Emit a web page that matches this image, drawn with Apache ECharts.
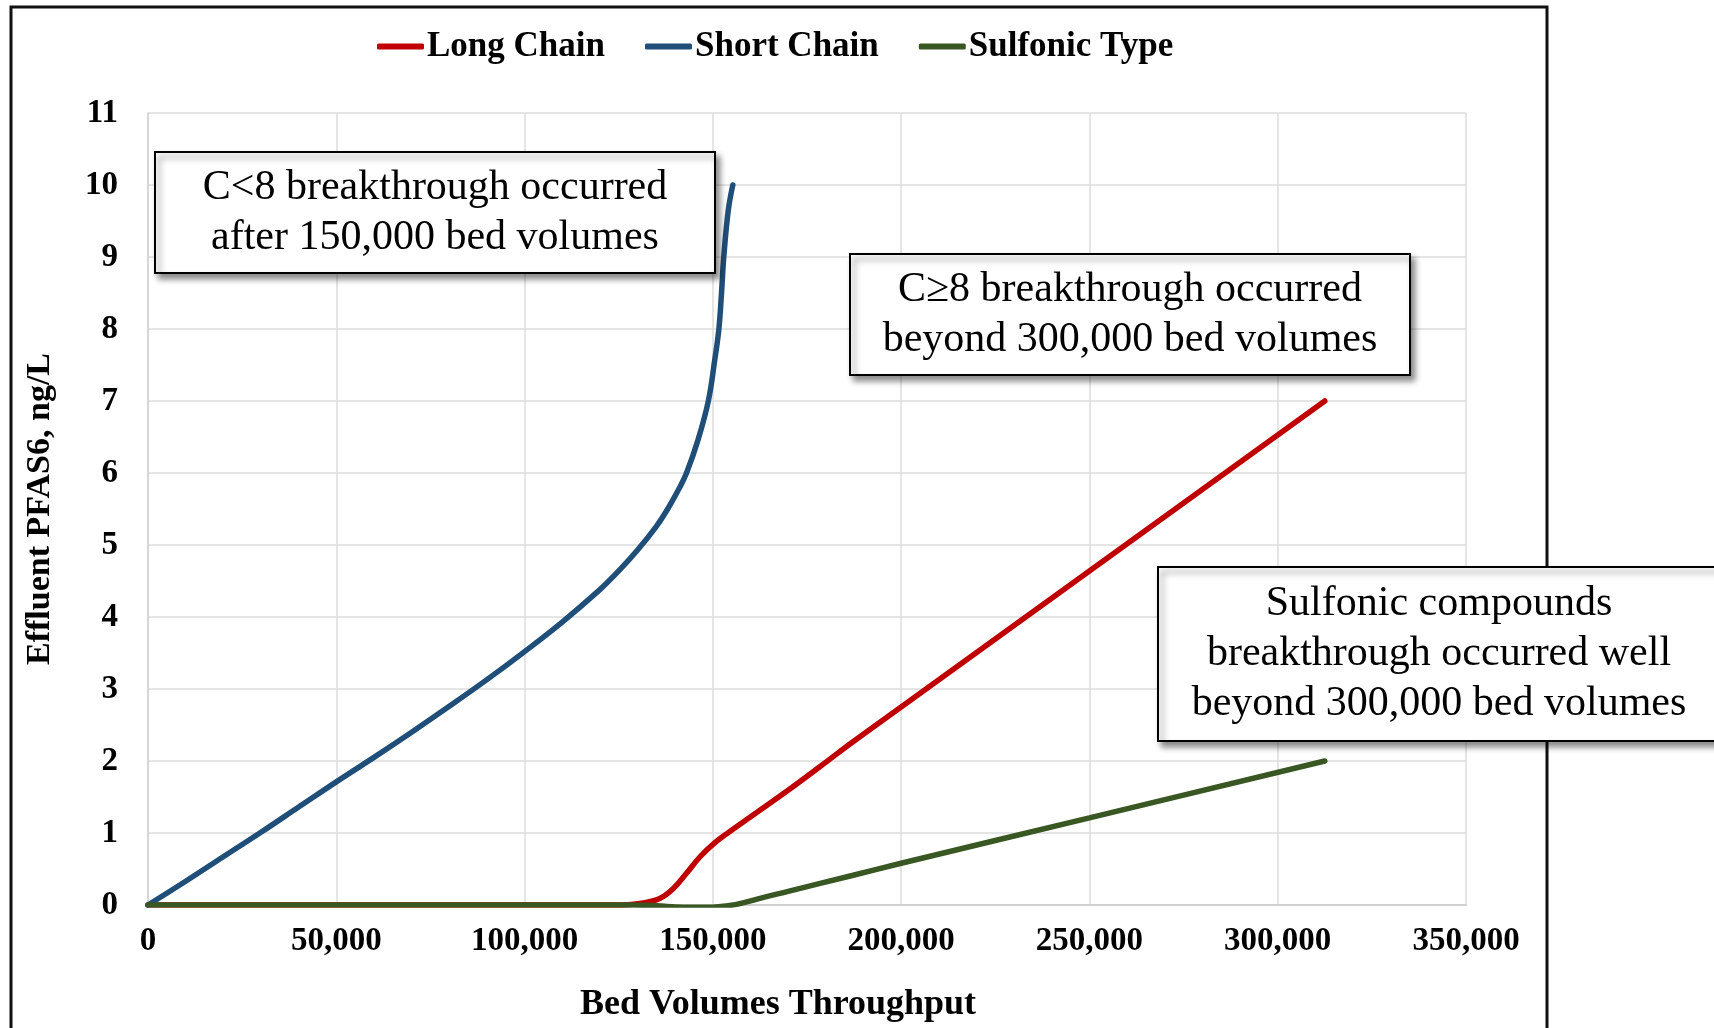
<!DOCTYPE html>
<html>
<head>
<meta charset="utf-8">
<script src="https://cdn.jsdelivr.net/npm/echarts@6/dist/echarts.min.js"></script>
<style>
  html, body { margin: 0; padding: 0; background: #fff; }
  #chart { width: 1714px; height: 1028px; }
</style>
</head>
<body>
<div id="chart"></div>
<script>
// series names
const seriesNames = ["Long Chain", "Short Chain", "Sulfonic Type"];
const seriesColors = ["#C00000", "#1F4E79", "#385723"];

// [bed volumes, ng/L]
const longChain = [
  [0, 0], [50000, 0], [100000, 0], [126000, 0], [130600, 0.02], [135900, 0.09],
  [139500, 0.23], [143000, 0.44], [146600, 0.67], [150400, 0.86], [154500, 1.02],
  [160700, 1.25], [169600, 1.58], [178400, 1.92], [187300, 2.27], [200000, 2.75],
  [250000, 4.64], [312500, 7.0]
];
const shortChain = [
  [0, 0], [10000, 0.33], [20000, 0.67], [30000, 1.01], [40000, 1.36], [50000, 1.71],
  [60000, 2.05], [70000, 2.4], [80000, 2.76], [90000, 3.13], [100000, 3.52],
  [110000, 3.93], [120000, 4.38], [125000, 4.64], [130000, 4.93], [135000, 5.26],
  [138000, 5.5], [141000, 5.78], [143000, 6.0], [146000, 6.45], [148800, 7.0],
  [150500, 7.57], [151600, 8.0], [152300, 8.5], [152900, 9.0], [154100, 9.65],
  [155300, 10.0]
];
const sulfonicType = [
  [0, 0], [100000, 0], [128000, 0], [135000, -0.01], [142000, -0.03], [150000, -0.03],
  [154000, -0.01], [158000, 0.03], [163000, 0.1], [170000, 0.19], [187000, 0.41],
  [200000, 0.58], [250000, 1.21], [312500, 2.0]
];

// axis ticks
const xMax = 350000, xStep = 50000;
const yMax = 11, yStep = 1;

// annotation boxes
const noteTexts = [
  "C<8 breakthrough occurred\nafter 150,000 bed volumes",
  "C\u22658 breakthrough occurred\nbeyond 300,000 bed volumes",
  "Sulfonic compounds\nbreakthrough occurred well\nbeyond 300,000 bed volumes"
];
const noteBoxes = [
  { x: 155, y: 152, w: 560, h: 121 },
  { x: 850, y: 254, w: 560, h: 121 },
  { x: 1158, y: 567, w: 562, h: 174 }
];

const serif = "Liberation Serif";

function makeNote(i) {
  const b = noteBoxes[i];
  return [
    {
      type: "rect", z: 100, silent: true,
      shape: { x: b.x, y: b.y, width: b.w, height: b.h },
      style: {
        fill: "#fff", stroke: "#000", lineWidth: 2,
        shadowBlur: 6, shadowOffsetX: 4, shadowOffsetY: 5,
        shadowColor: "rgba(0,0,0,0.45)"
      }
    },
    {
      type: "text", z: 101, silent: true,
      x: b.x + b.w / 2, y: b.y + b.h / 2,
      style: {
        text: noteTexts[i], fill: "#000",
        font: "42px '" + serif + "'", lineHeight: 50,
        align: "center", verticalAlign: "middle"
      }
    }
  ];
}

const myChart = echarts.init(document.getElementById("chart"));
const option = {
  backgroundColor: "#fff",
  textStyle: { fontFamily: serif },
  grid: { left: 148, right: 248, top: 113, bottom: 123 },
  legend: {
    data: seriesNames,
    left: 377, top: 29, padding: 0,
    icon: "roundRect", itemWidth: 47, itemHeight: 6, itemGap: 40,
    textStyle: { fontFamily: serif, fontWeight: "bold", fontSize: 35, color: "#000", padding: [0, 0, 0, -2] }
  },
  xAxis: {
    type: "value", min: 0, max: xMax, interval: xStep,
    name: "Bed Volumes Throughput", nameLocation: "middle", nameGap: 82,
    nameTextStyle: { fontFamily: serif, fontWeight: "bold", fontSize: 36, color: "#000", padding: [0, 58, 0, 0] },
    axisLine: { show: true, lineStyle: { color: "#d0d0d0", width: 2 } },
    axisTick: { show: false },
    axisLabel: {
      margin: 20, fontFamily: serif, fontWeight: "bold", fontSize: 33, color: "#000",
      formatter: v => v.toLocaleString("en-US")
    },
    splitLine: { show: true, lineStyle: { color: "#dcdcdc", width: 1.5 } }
  },
  yAxis: {
    type: "value", min: 0, max: yMax, interval: yStep,
    name: "Effluent PFAS6, ng/L", nameLocation: "middle", nameGap: 91,
    nameTextStyle: { fontFamily: serif, fontWeight: "bold", fontSize: 34, color: "#000" },
    axisLine: { show: true, lineStyle: { color: "#d0d0d0", width: 1.5 } },
    axisTick: { show: false },
    axisLabel: { margin: 30, fontFamily: serif, fontWeight: "bold", fontSize: 33, color: "#000" },
    splitLine: { show: true, lineStyle: { color: "#dcdcdc", width: 1.5 } }
  },
  series: [longChain, shortChain, sulfonicType].map((d, i) => ({
    name: seriesNames[i],
    type: "line",
    data: d,
    smooth: 0.4,
    showSymbol: false,
    clip: false,
    color: seriesColors[i],
    lineStyle: { width: 5.5, color: seriesColors[i], cap: "round" }
  })),
  graphic: [
    {
      type: "rect", z: 90, silent: true,
      shape: { x: 11, y: 7, width: 1536, height: 1100 },
      style: { fill: "none", stroke: "#111", lineWidth: 3 }
    }
  ].concat(makeNote(0), makeNote(1), makeNote(2))
};
myChart.setOption(option);
window.addEventListener("resize", () => {
  myChart.resize();
});
</script>
</body>
</html>
